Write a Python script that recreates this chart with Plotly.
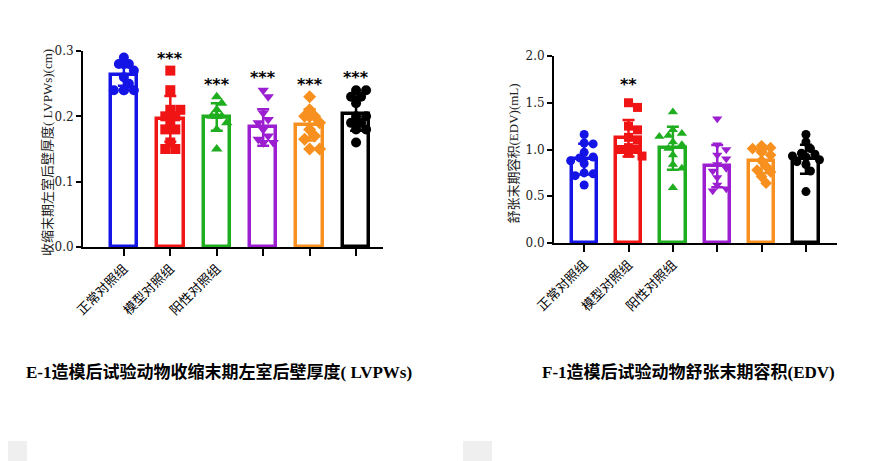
import plotly.graph_objects as go
import math

# ---------------- data ----------------
groups = ["正常对照组", "模型对照组", "阳性对照组", "", "", ""]
colors = ["#1414e6", "#f01414", "#1fae1f", "#9b1fd1", "#f7901e", "#000000"]
symbols = ["circle", "square", "triangle-up", "triangle-down", "diamond", "circle"]

# E-1 LVPWs (cm)
lvpws_points = [
    [0.29, 0.28, 0.28, 0.28, 0.28, 0.27, 0.26, 0.25, 0.24, 0.24, 0.24, 0.24],
    [0.27, 0.24, 0.21, 0.21, 0.20, 0.20, 0.19, 0.18, 0.18, 0.16, 0.15, 0.15],
    [0.23, 0.22, 0.21, 0.20, 0.20, 0.20, 0.20, 0.20, 0.20, 0.19, 0.18, 0.15],
    [0.24, 0.23, 0.205, 0.195, 0.19, 0.18, 0.17, 0.165, 0.16, 0.16, 0.16, 0.16],
    [0.23, 0.21, 0.20, 0.20, 0.20, 0.20, 0.19, 0.18, 0.17, 0.165, 0.15, 0.15],
    [0.24, 0.24, 0.23, 0.23, 0.22, 0.20, 0.20, 0.19, 0.19, 0.18, 0.18, 0.16],
]
lvpws_mean = [0.263, 0.196, 0.199, 0.183, 0.187, 0.204]
lvpws_sd = [0.016, 0.035, 0.021, 0.028, 0.024, 0.026]
lvpws_sig = ["", "***", "***", "***", "***", "***"]

# F-1 EDV (mL)
edv_points = [
    [1.16, 1.07, 1.06, 0.97, 0.92, 0.91, 0.88, 0.85, 0.75, 0.74, 0.72, 0.62],
    [1.50, 1.45, 1.25, 1.21, 1.13, 1.10, 1.02, 1.00, 1.00, 0.98, 0.96, 0.93],
    [1.40, 1.21, 1.17, 1.15, 1.14, 1.08, 1.05, 1.01, 0.94, 0.84, 0.80, 0.59],
    [1.33, 1.05, 1.00, 0.94, 0.90, 0.84, 0.80, 0.77, 0.70, 0.62, 0.58, 0.56],
    [1.04, 1.02, 1.01, 0.98, 0.97, 0.94, 0.88, 0.82, 0.78, 0.76, 0.71, 0.64],
    [1.16, 1.08, 1.01, 0.96, 0.95, 0.93, 0.92, 0.89, 0.87, 0.84, 0.77, 0.55],
]
edv_mean = [0.897, 1.12, 1.014, 0.822, 0.879, 0.895]
edv_sd = [0.165, 0.195, 0.23, 0.225, 0.13, 0.155]
edv_sig = ["", "**", "", "", "", ""]

# page has an 8px body margin: build the figure 8px smaller and shift coordinates
OFF = 8
W, H = 874 - OFF, 461 - OFF


def fx(px):
    return (px - OFF) / W


def fy(py):
    return 1 - (py - OFF) / H


# panel geometry (page pixels)
panels = [
    dict(x0=83, x1=383, ybot=247, ytop=51, xr=[-0.88, 5.58], yr=[0, 0.3], dt=0.1,
         pts=lvpws_points, mean=lvpws_mean, sd=lvpws_sd, sig=lvpws_sig, msize=10,
         star_off=0.019, ytitle="收缩末期左室后壁厚度( LVPWs)(cm)", ytitle_x=47,
         title="E-1造模后试验动物收缩末期左室后壁厚度( LVPWs)", title_x=219),
    dict(x0=554, x1=837, ybot=243, ytop=56, xr=[-0.68, 5.70], yr=[0, 2.0], dt=0.5,
         pts=edv_points, mean=edv_mean, sd=edv_sd, sig=edv_sig, msize=9,
         star_off=0.2, ytitle="舒张末期容积(EDV)(mL)", ytitle_x=513,
         title="F-1造模后试验动物舒张末期容积(EDV)", title_x=688),
]


def swarm(vals, d, ypx, maxoff):
    placed = []
    out = [0.0] * len(vals)
    order = sorted(range(len(vals)), key=lambda i: -vals[i])
    step = d * 0.5
    for i in order:
        y = vals[i] * ypx
        best = None
        for k in range(0, 40):
            cands = [0.0] if k == 0 else [k * step, -k * step]
            for c in cands:
                if abs(c) > maxoff:
                    continue
                if all(math.hypot(c - px, y - py) >= d * 0.78 for px, py in placed):
                    best = c
                    break
            if best is not None:
                break
        if best is None:
            best = 0.0
        placed.append((best, y))
        out[i] = best
    return out


fig = go.Figure()
annotations = []
serif = "Liberation Serif, Noto Sans CJK SC, serif"

for p_i, P in enumerate(panels):
    sfx = "" if p_i == 0 else "2"
    xa, ya = "x" + sfx, "y" + sfx
    pxcat = (P["x1"] - P["x0"]) / (P["xr"][1] - P["xr"][0])
    pxy = (P["ybot"] - P["ytop"]) / (P["yr"][1] - P["yr"][0])
    n = len(groups)
    fig.add_trace(go.Bar(
        x=list(range(n)), y=P["mean"], width=0.57,
        marker=dict(color="white", line=dict(color=colors, width=3.5)),
        xaxis=xa, yaxis=ya, showlegend=False, hoverinfo="skip"))
    for g in range(n):
        offs = swarm(P["pts"][g], P["msize"], pxy, 14)
        fig.add_trace(go.Scatter(
            x=[g + o / pxcat for o in offs], y=P["pts"][g], mode="markers",
            marker=dict(symbol=symbols[g], size=P["msize"], color=colors[g], line=dict(width=0)),
            xaxis=xa, yaxis=ya, showlegend=False, cliponaxis=False))
        fig.add_trace(go.Scatter(
            x=[g], y=[P["mean"][g]], mode="markers", marker=dict(size=1, opacity=0),
            error_y=dict(type="data", array=[P["sd"][g]], color=colors[g], thickness=2.5, width=6),
            xaxis=xa, yaxis=ya, showlegend=False, cliponaxis=False))
        if P["sig"][g]:
            annotations.append(dict(
                x=g, y=max(P["pts"][g]) + P["star_off"], xref=xa, yref=ya,
                text="<b>" + P["sig"][g] + "</b>", showarrow=False,
                xanchor="center", yanchor="middle",
                font=dict(family="DejaVu Sans", size=16, color="black")))
    ticks = [round(P["yr"][0] + k * P["dt"], 2) for k in range(int(round((P["yr"][1] - P["yr"][0]) / P["dt"])) + 1)]
    xdom = [fx(P["x0"]), fx(P["x1"])]
    ydom = [fy(P["ybot"]), fy(P["ytop"])]
    axis_common = dict(showline=True, linecolor="black", linewidth=2, ticks="outside",
                       tickcolor="black", tickwidth=2, showgrid=False, zeroline=False,
                       automargin=False)
    fig.layout["xaxis" + sfx] = dict(
        domain=xdom, range=P["xr"], tickvals=list(range(n)), ticktext=groups,
        tickangle=-45, ticklen=7, anchor=ya,
        tickfont=dict(family=serif, size=13, color="black"), **axis_common)
    fig.layout["yaxis" + sfx] = dict(
        domain=ydom, range=P["yr"], tickvals=ticks, tickformat=".1f", ticklen=5,
        anchor=xa, tickfont=dict(family="DejaVu Serif", size=12, color="#222"), **axis_common)
    annotations.append(dict(
        x=fx(P["ytitle_x"]), y=fy((P["ybot"] + P["ytop"]) / 2 + 4), xref="paper", yref="paper",
        text=P["ytitle"], textangle=-90, showarrow=False, xanchor="center", yanchor="middle",
        font=dict(family=serif, size=13, color="#222")))
    annotations.append(dict(
        x=fx(P["title_x"]), y=fy(372), xref="paper", yref="paper",
        text="<b>" + P["title"] + "</b>", showarrow=False, xanchor="center", yanchor="middle",
        font=dict(family=serif, size=17, color="black")))

shapes = [
    dict(type="rect", xref="paper", yref="paper", x0=0, x1=fx(27), y0=0, y1=fy(441),
         fillcolor="#efefef", line=dict(width=0), layer="below"),
    dict(type="rect", xref="paper", yref="paper", x0=fx(463), x1=fx(492), y0=0, y1=fy(441),
         fillcolor="#efefef", line=dict(width=0), layer="below"),
]

fig.update_layout(width=W, height=H, margin=dict(l=0, r=0, t=0, b=0, autoexpand=False),
                  paper_bgcolor="white", plot_bgcolor="white",
                  annotations=annotations, shapes=shapes, showlegend=False, bargap=0)
fig.write_html("out.html")
